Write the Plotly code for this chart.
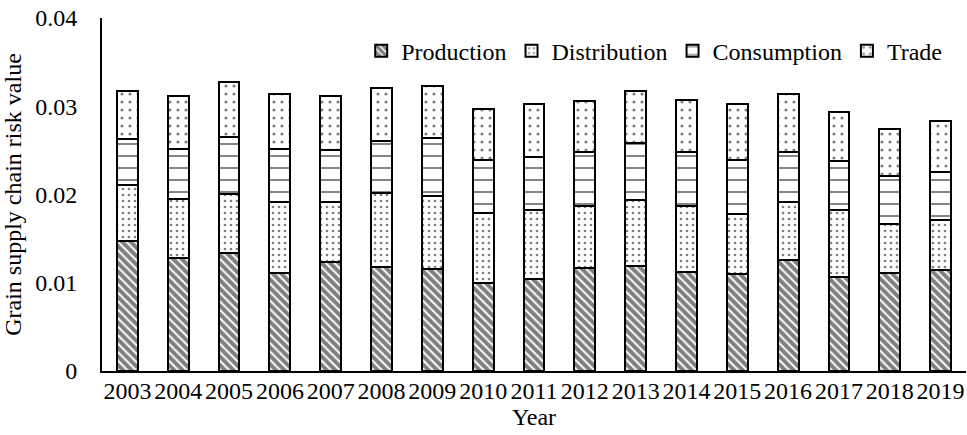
import plotly.graph_objects as go

years = [str(y) for y in range(2003, 2020)]
# segment values
production = [0.0147, 0.0128, 0.0134, 0.0111, 0.0124, 0.0118, 0.0116, 0.0100, 0.0104, 0.0117,
              0.0119, 0.0112, 0.0110, 0.0126, 0.0107, 0.0111, 0.0115]
distribution = [0.0064, 0.0067, 0.0067, 0.0080, 0.0067, 0.0084, 0.0082, 0.0079, 0.0078, 0.0070,
                0.0075, 0.0075, 0.0068, 0.0065, 0.0075, 0.0056, 0.0056]
consumption = [0.0052, 0.0056, 0.0064, 0.0060, 0.0059, 0.0059, 0.0066, 0.0060, 0.0061, 0.0061,
               0.0064, 0.0061, 0.0061, 0.0057, 0.0056, 0.0054, 0.0054]
trade = [0.0054, 0.0061, 0.0062, 0.0063, 0.0062, 0.0060, 0.0059, 0.0058, 0.0059, 0.0058,
         0.0059, 0.0059, 0.0063, 0.0066, 0.0055, 0.0053, 0.0058]

FONT = "Liberation Serif, DejaVu Serif, serif"

series = [
    ("Production", production, dict(shape="\\", size=6, solidity=0.68)),
    ("Distribution", distribution, dict(shape=".", size=6, solidity=0.16)),
    ("Consumption", consumption, dict(shape="-", size=12, solidity=0.16)),
    ("Trade", trade, dict(shape=".", size=8, solidity=0.12)),
]

fig = go.Figure()
for name, vals, pat in series:
    fig.add_trace(go.Bar(
        x=years, y=vals, name=name,
        marker=dict(color="white", line=dict(color="black", width=2),
                    pattern=dict(fgcolor="black", bgcolor="white", fillmode="overlay", **pat)),
    ))

fig.update_layout(
    barmode="stack",
    bargap=0.59,
    width=967, height=435,
    margin=dict(l=102, r=1, t=18, b=64),
    paper_bgcolor="white", plot_bgcolor="white",
    font=dict(family=FONT, size=24, color="black"),
    legend=dict(orientation="h", x=0.3, y=0.97, xanchor="left", yanchor="top",
                font=dict(family=FONT, size=24), itemwidth=30, bgcolor="rgba(0,0,0,0)",
                traceorder="normal"),
    xaxis=dict(title=dict(text="Year", standoff=0, font=dict(family=FONT, size=24)),
               showline=True, linecolor="black", linewidth=2, ticks="",
               ticklabelstandoff=-3,
               tickfont=dict(family=FONT, size=24), showgrid=False, automargin=False),
    yaxis=dict(title=dict(text="Grain supply chain risk value", standoff=8,
                          font=dict(family=FONT, size=24)),
               range=[0, 0.04], dtick=0.01, ticklabelstandoff=18,
               showline=True, linecolor="black", linewidth=2, ticks="",
               tickfont=dict(family=FONT, size=24), showgrid=False, zeroline=False,
               automargin=False),
)

fig.write_html("out.html", config={"displayModeBar": False},
               post_script="document.body.style.margin='0';")
